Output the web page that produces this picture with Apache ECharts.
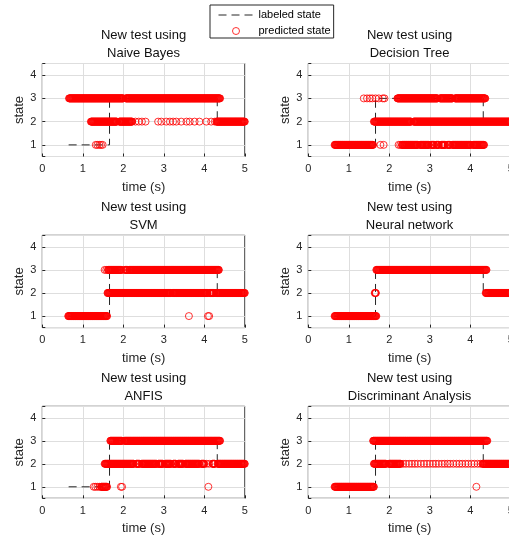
<!DOCTYPE html>
<html><head><meta charset="utf-8">
<script src="https://cdn.jsdelivr.net/npm/echarts@6/dist/echarts.min.js"></script>
<style>html,body{margin:0;padding:0;background:#fff}#c{width:509px;height:540px}</style>
</head><body><div id="c"></div><script>
// ---- data ----
const xTickValues = [0, 1, 2, 3, 4, 5];
const yTickValues = [1, 2, 3, 4];
const sampleStep = 0.01; // s, sampling interval of the predicted state
// labeled (true) state, step changes at these times
const labeledTimes = [0.65, 1.66, 4.32, 5.0];
const labeledStates = [1, 3, 2, 2];
const classifierNames = ['Naive Bayes', 'Decision Tree', 'SVM', 'Neural network', 'ANFIS', 'Discriminant Analysis'];

// predicted state: runs of consecutive samples [start, end, state] and isolated samples [time, state]
const naiveBayesRuns = [[0.66, 2.0, 3], [2.06, 4.39, 3], [1.2, 1.84, 2], [1.9, 2.22, 2], [4.3, 5.0, 2]];
const naiveBayesPoints = [[1.32, 1], [1.36, 1], [1.41, 1], [1.45, 1], [1.49, 1],
  [2.3, 2], [2.38, 2], [2.46, 2], [2.55, 2], [2.86, 2], [2.94, 2], [3.06, 2], [3.15, 2], [3.23, 2],
  [3.31, 2], [3.43, 2], [3.56, 2], [3.64, 2], [3.76, 2], [3.88, 2], [4.05, 2], [4.17, 2], [4.26, 2]];

const decisionTreeRuns = [[2.2, 3.19, 3], [3.25, 3.56, 3], [3.62, 4.37, 3],
  [1.62, 2.54, 2], [2.6, 5.0, 2],
  [0.65, 1.6, 1], [2.31, 2.7, 1], [2.76, 2.98, 1], [3.04, 3.11, 1], [3.16, 3.22, 1], [3.28, 3.38, 1],
  [3.44, 3.5, 1], [3.56, 4.01, 1], [4.07, 4.34, 1]];
const decisionTreePoints = [[1.37, 3], [1.45, 3], [1.52, 3], [1.58, 3], [1.66, 3], [1.74, 3], [1.84, 3], [1.88, 3],
  [1.78, 1], [1.86, 1], [2.23, 1], [2.27, 1]];

const svmRuns = [[0.64, 1.6, 1], [1.61, 3.17, 2], [3.22, 4.08, 2], [4.13, 4.24, 2], [4.29, 5.0, 2],
  [1.62, 1.95, 3], [2.05, 2.1, 3], [2.14, 4.36, 3]];
const svmPoints = [[3.62, 1], [4.09, 1], [4.12, 1], [1.54, 3], [1.58, 3], [2.0, 3]];

const neuralNetworkRuns = [[0.65, 1.68, 1], [4.38, 5.0, 2], [1.68, 4.4, 3]];
const neuralNetworkPoints = [[1.64, 2], [1.65, 2], [1.66, 2], [1.67, 2]];

const anfisRuns = [[1.45, 1.6, 1], [1.54, 2.26, 2], [2.32, 2.4, 2], [2.45, 2.82, 2], [2.86, 2.98, 2],
  [3.03, 3.18, 2], [3.23, 3.3, 2], [3.35, 3.48, 2], [3.53, 3.88, 2], [3.93, 4.0, 2], [4.2, 4.26, 2],
  [4.33, 5.0, 2], [1.68, 1.97, 3], [2.03, 4.39, 3]];
const anfisPoints = [[1.27, 1], [1.31, 1], [1.36, 1], [1.41, 1], [1.94, 1], [1.97, 1], [4.1, 1], [4.05, 2], [4.12, 2]];

const discriminantRuns = [[0.65, 1.62, 1], [1.6, 4.42, 3], [1.62, 1.92, 2], [1.99, 2.28, 2], [4.3, 5.0, 2]];
const discriminantPoints = [[4.15, 1],
  [2.34, 2], [2.41, 2], [2.49, 2], [2.56, 2], [2.63, 2], [2.7, 2], [2.78, 2], [2.86, 2], [2.93, 2],
  [3.0, 2], [3.08, 2], [3.15, 2], [3.22, 2], [3.3, 2], [3.37, 2], [3.44, 2], [3.5, 2], [3.58, 2],
  [3.66, 2], [3.73, 2], [3.8, 2], [3.88, 2], [3.95, 2], [4.03, 2], [4.1, 2], [4.18, 2], [4.25, 2]];

const predictedRuns = [naiveBayesRuns, decisionTreeRuns, svmRuns, neuralNetworkRuns, anfisRuns, discriminantRuns];
const predictedPoints = [naiveBayesPoints, decisionTreePoints, svmPoints, neuralNetworkPoints, anfisPoints, discriminantPoints];

// ---- build ----
function expand(runs, pts) {
  const out = [];
  runs.forEach(([t0, t1, s]) => {
    const n = Math.round((t1 - t0) / sampleStep);
    for (let k = 0; k <= n; k++) out.push([+(t0 + k * sampleStep).toFixed(3), s]);
  });
  pts.forEach(p => out.push([p[0], p[1]]));
  return out;
}

const FONT = 'Liberation Sans, Arial, sans-serif';
const AX = '#262626';
const colLeft = [42.3, 308.3];
const colWidth = 202.5;
const rowTop = [63.5, 235.3, 406.3];
const rowHeight = [93, 92.3, 92];
const titleTop = [26.5, 198, 369];

const grids = [], xAxes = [], yAxes = [], titles = [], series = [];
for (let i = 0; i < 6; i++) {
  const r = Math.floor(i / 2), c = i % 2;
  grids.push({ left: colLeft[c], top: rowTop[r], width: colWidth, height: rowHeight[r],
    show: true, borderColor: AX, borderWidth: 1, backgroundColor: '#fff',
    containLabel: false, outerBoundsMode: 'none' });
  xAxes.push({ type: 'value', gridIndex: i, min: xTickValues[0], max: xTickValues[xTickValues.length - 1], interval: 1,
    axisLine: { show: false, onZero: false },
    axisTick: { show: true, inside: true, length: 3, lineStyle: { color: AX } },
    axisLabel: { color: AX, fontSize: 11, fontFamily: FONT, margin: 7 },
    splitLine: { show: true, lineStyle: { color: '#dedede', width: 1 } },
    name: 'time (s)', nameLocation: 'middle', nameGap: 24,
    nameTextStyle: { color: AX, fontSize: 13, fontFamily: FONT } });
  yAxes.push({ type: 'value', gridIndex: i, min: 0.5, max: 4.5, splitNumber: 4,
    axisLine: { show: false },
    axisTick: { show: true, inside: true, length: 3, lineStyle: { color: AX } },
    axisLabel: { color: AX, fontSize: 11, fontFamily: FONT, margin: 6,
      formatter: v => yTickValues.indexOf(v) >= 0 ? String(v) : '' },
    splitLine: { show: true, lineStyle: { color: '#dedede', width: 1 } },
    name: 'state', nameLocation: 'middle', nameGap: 13,
    nameTextStyle: { color: AX, fontSize: 13, fontFamily: FONT } });
  titles.push({ text: 'New test using\n' + classifierNames[i], left: colLeft[c] + colWidth / 2, top: titleTop[r],
    textAlign: 'center', padding: 0,
    textStyle: { color: '#111', fontSize: 13, fontWeight: 'normal', fontFamily: FONT, lineHeight: 18 } });
  series.push({ name: 'labeled state', type: 'line', xAxisIndex: i, yAxisIndex: i, step: 'end',
    symbol: 'none', data: labeledTimes.map((t, k) => [t, labeledStates[k]]),
    itemStyle: { color: 'rgba(0,0,0,0)', borderColor: 'rgba(0,0,0,0)', borderWidth: 0 },
    lineStyle: { color: AX, width: 1, type: [8, 5] }, z: 2, animation: false, silent: true });
  series.push({ name: 'predicted state', type: 'scatter', xAxisIndex: i, yAxisIndex: i,
    data: expand(predictedRuns[i], predictedPoints[i]), symbol: 'circle', symbolSize: 7,
    itemStyle: { color: 'rgba(255,255,255,0)', borderColor: '#ff0000', borderWidth: 1 },
    large: false, progressive: 0, z: 3, animation: false, silent: true });
}

const chart = echarts.init(document.getElementById('c'), null, { renderer: 'canvas' });
chart.setOption({
  backgroundColor: '#fff',
  animation: false,
  title: titles,
  legend: { data: ['labeled state', 'predicted state'], orient: 'vertical', left: 210, top: 5,
    padding: [4, 3, 1, 8], itemGap: 4, itemWidth: 35, itemHeight: 7,
    borderColor: AX, borderWidth: 1, backgroundColor: '#fff',
    textStyle: { color: '#000', fontSize: 11, fontFamily: FONT, lineHeight: 12 },
    itemStyle: { borderWidth: 1 }, lineStyle: { width: 1 }, selectedMode: false },
  grid: grids, xAxis: xAxes, yAxis: yAxes, series: series
});
</script></body></html>
